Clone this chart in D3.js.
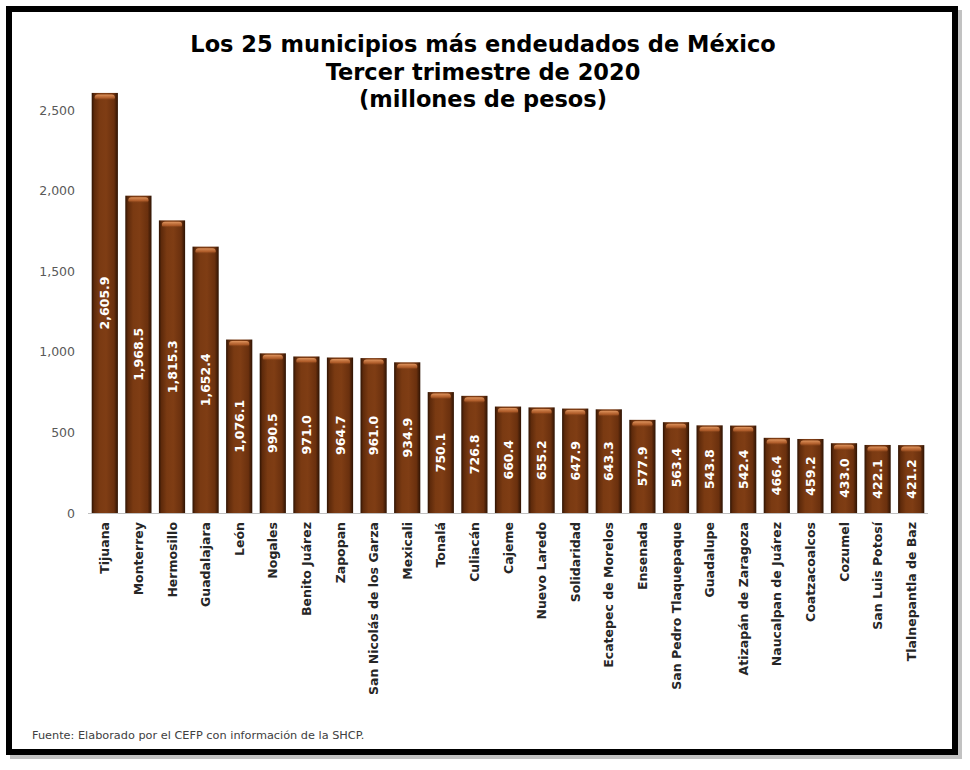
<!DOCTYPE html>
<html>
<head>
<meta charset="utf-8">
<script src="https://cdn.jsdelivr.net/npm/d3@7"></script>
<style>
  html, body { margin: 0; padding: 0; background: #ffffff; }
  svg { display: block; }
</style>
</head>
<body>
<svg id="chart" width="970" height="770"></svg>
<script>
const titleLines = ["Los 25 municipios más endeudados de México", "Tercer trimestre de 2020", "(millones de pesos)"];
const municipios = ["Tijuana", "Monterrey", "Hermosillo", "Guadalajara", "León", "Nogales", "Benito Juárez", "Zapopan", "San Nicolás de los Garza", "Mexicali", "Tonalá", "Culiacán", "Cajeme", "Nuevo Laredo", "Solidaridad", "Ecatepec de Morelos", "Ensenada", "San Pedro Tlaquepaque", "Guadalupe", "Atizapán de Zaragoza", "Naucalpan de Juárez", "Coatzacoalcos", "Cozumel", "San Luis Potosí", "Tlalnepantla de Baz"];
const deuda = [2605.9, 1968.5, 1815.3, 1652.4, 1076.1, 990.5, 971.0, 964.7, 961.0, 934.9, 750.1, 726.8, 660.4, 655.2, 647.9, 643.3, 577.9, 563.4, 543.8, 542.4, 466.4, 459.2, 433.0, 422.1, 421.2];
const yTicks = [0, 500, 1000, 1500, 2000, 2500];
const fuente = "Fuente: Elaborado por el CEFP con información de la SHCP.";

const FONT = "'DejaVu Sans', sans-serif";
const svg = d3.select("#chart");

// frame with shadow
svg.append("rect").attr("x", 13).attr("y", 13).attr("width", 946).attr("height", 743)
  .attr("fill", "none").attr("stroke", "#9a9a9a").attr("stroke-width", 6).attr("opacity", 0.6);
svg.append("rect").attr("x", 9).attr("y", 9).attr("width", 946).attr("height", 743)
  .attr("fill", "#ffffff").attr("stroke", "#000000").attr("stroke-width", 6);

const defs = svg.append("defs");
const g1 = defs.append("linearGradient").attr("id", "barGrad").attr("x1", "0%").attr("x2", "100%").attr("y1", "0%").attr("y2", "0%");
[["0%", "#2e1303"], ["10%", "#5e2a0b"], ["30%", "#7a3a12"], ["55%", "#7f3d14"], ["85%", "#6a300e"], ["100%", "#2e1303"]]
  .forEach(([o, c]) => g1.append("stop").attr("offset", o).attr("stop-color", c));
const g2 = defs.append("linearGradient").attr("id", "topGrad").attr("x1", "0%").attr("x2", "0%").attr("y1", "0%").attr("y2", "100%");
[["0%", "#e59a63", 0.95], ["60%", "#c46a33", 0.7], ["100%", "#7a3a12", 0]]
  .forEach(([o, c, a]) => g2.append("stop").attr("offset", o).attr("stop-color", c).attr("stop-opacity", a));

// title
const title = svg.append("text").attr("x", 483).attr("y", 52)
  .attr("text-anchor", "middle").attr("font-family", FONT).attr("font-weight", "bold")
  .attr("font-size", 22.5).attr("fill", "#000000");
titleLines.forEach((t, i) => title.append("tspan").attr("x", 483).attr("dy", i === 0 ? 0 : 27.5).text(t));

// scales
const x = d3.scaleBand().domain(municipios).range([88, 928]).paddingInner(0.22).paddingOuter(0.11);
const y = d3.scaleLinear().domain([0, 2500]).range([513, 110]);

// y axis
const yAxis = svg.append("g").attr("transform", "translate(88,0)")
  .call(d3.axisLeft(y).tickValues(yTicks).tickSize(0).tickPadding(13).tickFormat(d3.format(",")));
yAxis.select(".domain").remove();
yAxis.selectAll("text").attr("font-family", FONT).attr("font-size", 12.5).attr("fill", "#595959");

// bars
const data = municipios.map((m, i) => ({ m, v: deuda[i] }));
const bars = svg.append("g");
bars.selectAll("rect.bar").data(data).enter().append("rect").attr("class", "bar")
  .attr("x", d => x(d.m)).attr("y", d => y(d.v))
  .attr("width", x.bandwidth()).attr("height", d => y(0) - y(d.v))
  .attr("fill", "url(#barGrad)");
bars.selectAll("rect.hl").data(data).enter().append("rect").attr("class", "hl")
  .attr("x", d => x(d.m) + 3).attr("y", d => y(d.v) + 1.5)
  .attr("width", x.bandwidth() - 6).attr("height", 6).attr("rx", 3)
  .attr("fill", "url(#topGrad)");

// baseline
svg.append("line").attr("x1", 88).attr("x2", 928).attr("y1", y(0) + 0.5).attr("y2", y(0) + 0.5)
  .attr("stroke", "#bfbfbf").attr("stroke-width", 1.2);

// value labels
svg.append("g").selectAll("text").data(data).enter().append("text")
  .attr("transform", d => `translate(${x(d.m) + x.bandwidth() / 2},${(y(d.v) + y(0)) / 2}) rotate(-90)`)
  .attr("text-anchor", "middle").attr("dy", "0.36em")
  .attr("font-family", FONT).attr("font-weight", "bold").attr("font-size", 12.5).attr("fill", "#ffffff")
  .text(d => d3.format(",.1f")(d.v));

// category labels
svg.append("g").selectAll("text").data(data).enter().append("text")
  .attr("transform", d => `translate(${x(d.m) + x.bandwidth() / 2},522) rotate(-90)`)
  .attr("text-anchor", "end").attr("dy", "0.36em")
  .attr("font-family", FONT).attr("font-weight", "bold").attr("font-size", 12.5).attr("fill", "#262626")
  .text(d => d.m);

// footer
svg.append("text").attr("x", 32).attr("y", 739)
  .attr("font-family", FONT).attr("font-size", 11.3).attr("fill", "#404040")
  .text(fuente);
</script>
</body>
</html>
